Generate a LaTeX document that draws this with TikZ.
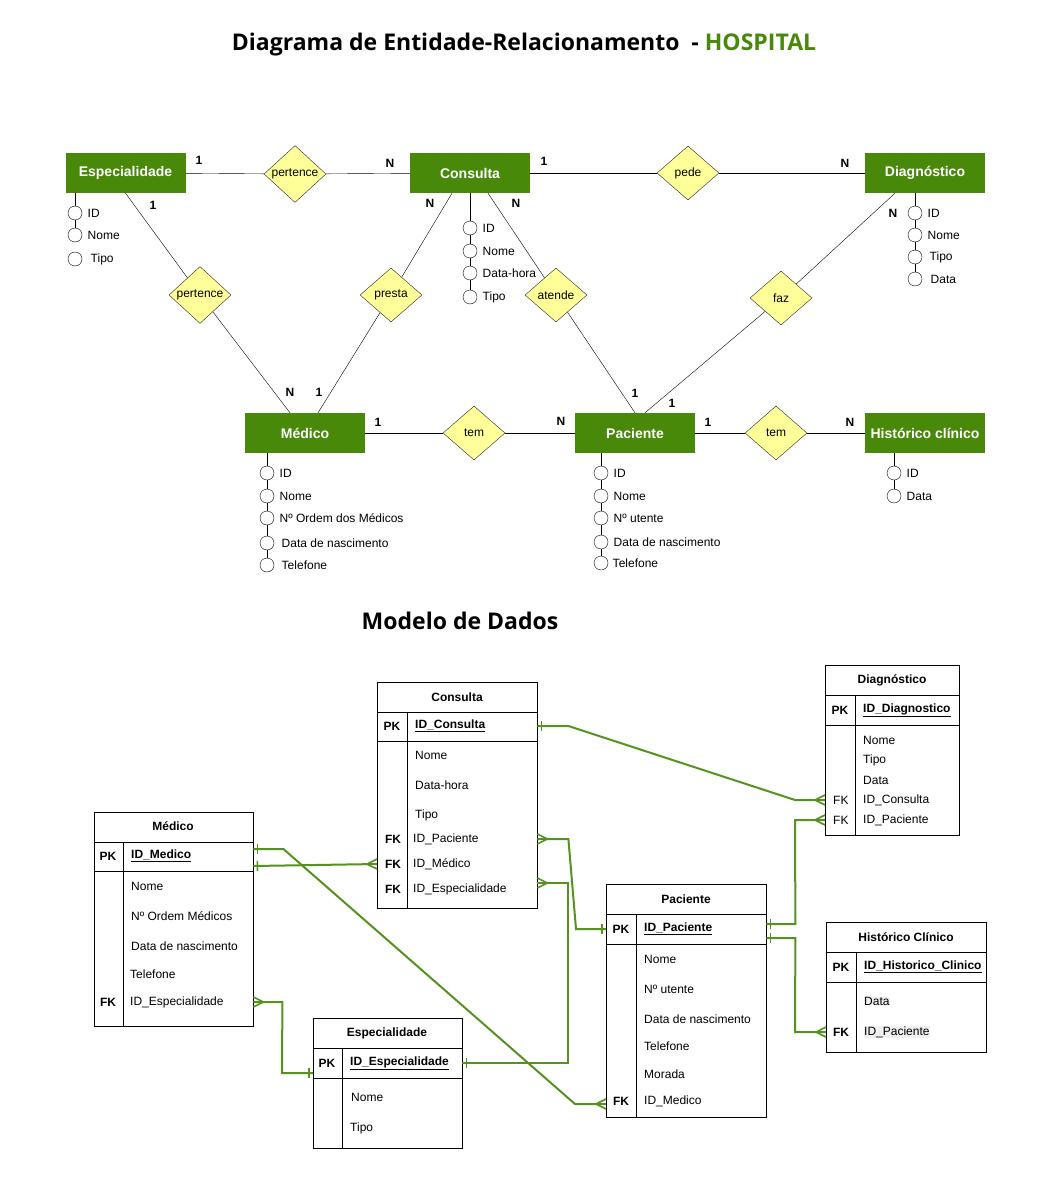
\documentclass[tikz,border=0pt]{standalone}
\usepackage{fontspec}
\setmainfont{Liberation Sans}
\newfontfamily\titlefont{Open Sans}
\usetikzlibrary{shapes.geometric}
\usetikzlibrary{decorations.markings}

\definecolor{ergreen}{RGB}{72,137,10}
\definecolor{fkgreen}{RGB}{86,146,32}
\definecolor{relyellow}{RGB}{255,255,153}

\tikzset{
  entity/.style={rectangle, fill=ergreen, text=white, minimum width=120pt, minimum height=40pt, inner sep=0pt, font=\bfseries\fontsize{14}{16}\selectfont},
  rel/.style={diamond, draw=black!85, fill=relyellow, minimum width=62pt, minimum height=54pt, inner sep=0pt, font=\fontsize{12}{14}\selectfont},
  attr/.style={circle, draw, fill=white, minimum size=14pt, inner sep=0pt},
  card/.style={inner sep=0pt, font=\bfseries\fontsize{12}{14}\selectfont},
  tbl/.style={draw, anchor=north west, inner sep=0pt},
  ttitle/.style={inner sep=0pt, font=\bfseries\fontsize{12}{14}\selectfont},
  tkey/.style={inner sep=0pt, font=\bfseries\fontsize{12}{14}\selectfont},
  trow/.style={anchor=west, inner sep=0pt, font=\fontsize{12}{14}\selectfont},
  tpk/.style={anchor=west, inner sep=0pt, font=\bfseries\fontsize{12}{14}\selectfont},
  fkline/.style={draw=fkgreen, line width=2pt},
  fktick/.style={fkgreen, line width=1.6pt},
  onestart/.style={postaction={decorate, decoration={markings, mark=at position 4pt with {\draw[fktick] (0,-5pt) -- (0,5pt);}}}},
  oneend/.style={postaction={decorate, decoration={markings, mark=at position -4pt with {\draw[fktick] (0,-5pt) -- (0,5pt);}}}},
  manystart/.style={postaction={decorate, decoration={markings, mark=at position 10pt with {\draw[fktick] (0,0) -- (-10pt,5pt) (0,0) -- (-10pt,-5pt);}}}},
  manyend/.style={postaction={decorate, decoration={markings, mark=at position -10pt with {\draw[fktick] (0,0) -- (10pt,5pt) (0,0) -- (10pt,-5pt);}}}},
}

\begin{document}
\begin{tikzpicture}[x=1pt, y=-1pt, label distance=2pt, every label/.style={font=\fontsize{12}{14}\selectfont}]
  \fill[white] (0,0) rectangle (1041,1198);
  \useasboundingbox (0,0) rectangle (1041,1198);

  \node[font=\titlefont\bfseries\fontsize{23}{27}\selectfont] (title) at (524,45)
    {Diagrama de Entidade-Relacionamento\ \ - \textcolor{ergreen}{HOSPITAL}};

  % Entities
  \node[entity] (esp)  at (125.5,173) {Especialidade};
  \node[entity] (cons) at (470,173)   {Consulta};
  \node[entity] (diag) at (925,173)   {Diagnóstico};
  \node[entity] (med)  at (305,433)   {Médico};
  \node[entity] (pac)  at (635,433)   {Paciente};
  \node[entity] (hist) at (925,433)   {Histórico clínico};

  % Relationships
  \node[rel] (pertA)  at (295,174) {pertence};
  \node[rel] (pede)   at (688,173) {pede};
  \node[rel] (pertB)  at (200,295) {pertence};
  \node[rel] (presta) at (391,295) {presta};
  \node[rel] (atende) at (556,295) {atende};
  \node[rel] (faz)    at (781,298) {faz};
  \node[rel] (temA)   at (474,433) {tem};
  \node[rel] (temB)   at (776,433) {tem};

  \draw (esp) -- (pertA) -- (cons);
  \draw (cons) -- (pede) -- (diag);
  \draw (esp.south) -- (pertB) -- ([xshift=-15pt]med.north);
  \draw ([xshift=-18pt]cons.south) -- (presta) -- ([xshift=13pt]med.north);
  \draw ([xshift=18pt]cons.south) -- (atende) -- (pac.north);
  \draw ([xshift=-30pt]diag.south) -- (faz) -- ([xshift=10pt]pac.north);
  \draw (med) -- (temA) -- (pac);
  \draw (pac) -- (temB) -- (hist);

  % Cardinalities
  \node[card] (k1)  at (199,160) {1};
  \node[card] (k2)  at (390,163) {N};
  \node[card] (k3)  at (544,161) {1};
  \node[card] (k4)  at (845,163) {N};
  \node[card] (k5)  at (153,205) {1};
  \node[card] (k6)  at (290,392) {N};
  \node[card] (k7)  at (319,392) {1};
  \node[card] (k8)  at (430,203) {N};
  \node[card] (k9)  at (516,203) {N};
  \node[card] (k10) at (635,393) {1};
  \node[card] (k11) at (893,213) {N};
  \node[card] (k12) at (672,403) {1};
  \node[card] (k13) at (378,422) {1};
  \node[card] (k14) at (561,421) {N};
  \node[card] (k15) at (708,422) {1};
  \node[card] (k16) at (850,422) {N};

  % Attributes
  \node[attr, label=right:ID]   (espid)   at (75,213) {};
  \node[attr, label=right:Nome] (espnome) at (75,235) {};
  \node[attr, label={[xshift=3pt]right:Tipo}] (esptipo) at (75,259) {};
  \draw (esp.south -| espid) -- (espid) -- (espnome);

  \node[attr, label=right:ID]        (consid)   at (470,228) {};
  \node[attr, label=right:Nome]      (consnome) at (470,251) {};
  \node[attr, label=right:Data-hora] (consdata) at (470,273) {};
  \node[attr, label=right:Tipo]      (constipo) at (470,297) {};
  \draw (cons.south -| consid) -- (consid) -- (consnome) -- (consdata) -- (constipo);

  \node[attr, label=right:ID]   (diagid)   at (915,213) {};
  \node[attr, label=right:Nome] (diagnome) at (915,235) {};
  \node[attr, label={[xshift=2pt]right:Tipo}] (diagtipo) at (915,257) {};
  \node[attr, label={[xshift=3pt]right:Data}] (diagdata) at (915,279) {};
  \draw (diag.south -| diagid) -- (diagid) -- (diagnome) -- (diagtipo) -- (diagdata);

  \node[attr, label=right:ID]   (medid)   at (267,473) {};
  \node[attr, label=right:Nome] (mednome) at (267,496) {};
  \node[attr, label=right:Nº Ordem dos Médicos] (medordem) at (267,518) {};
  \node[attr, label={[xshift=2pt]right:Data de nascimento}] (mednasc) at (267,543) {};
  \node[attr, label={[xshift=2pt]right:Telefone}] (medtel) at (267,565) {};
  \draw (med.south -| medid) -- (medid) -- (mednome) -- (medordem) -- (mednasc) -- (medtel);

  \node[attr, label=right:ID]   (pacid)   at (601,473) {};
  \node[attr, label=right:Nome] (pacnome) at (601,496) {};
  \node[attr, label=right:Nº utente] (pacutente) at (601,518) {};
  \node[attr, label=right:Data de nascimento] (pacnasc) at (601,542) {};
  \node[attr, label={[xshift=-1pt]right:Telefone}] (pactel) at (601,563) {};
  \draw (pac.south -| pacid) -- (pacid) -- (pacnome) -- (pacutente) -- (pacnasc) -- (pactel);

  \node[attr, label=right:ID]   (histid)   at (894,473) {};
  \node[attr, label=right:Data] (histdata) at (894,496) {};
  \draw (hist.south -| histid) -- (histid) -- (histdata);

  % Data model
  \node[font=\titlefont\bfseries\fontsize{23}{27}\selectfont] (subtitle) at (460,621) {Modelo de Dados};

  % Consulta
  \node[tbl, minimum width=160pt, minimum height=226pt] (tcons) at (377,682) {};
  \draw ([yshift=-30pt]tcons.north west) -- ([yshift=-30pt]tcons.north east)
        ([yshift=-59pt]tcons.north west) -- ([yshift=-59pt]tcons.north east)
        ([xshift=30pt,yshift=-30pt]tcons.north west) -- ([xshift=30pt]tcons.south west);
  \node[ttitle] (tconsT) at (457,697) {Consulta};
  \node[tkey] (cpkL) at (392,726) {PK};
  \node[tpk] (cpk) at (415,726) {\underline{ID\_Consulta}};
  \node[trow] (cnome) at (415,755) {Nome};
  \node[trow] (cdata) at (415,785) {Data-hora};
  \node[trow] (ctipo) at (415,815) {Tipo};
  \node[tkey] (cfpacL) at (393,839) {FK};
  \node[trow] (cfpac) at (413,839) {ID\_Paciente};
  \node[tkey] (cfmedL) at (393,864) {FK};
  \node[trow] (cfmed) at (413,864) {ID\_Médico};
  \node[tkey] (cfespL) at (393,889) {FK};
  \node[trow] (cfesp) at (413,889) {ID\_Especialidade};

  % Medico
  \node[tbl, minimum width=159pt, minimum height=214pt] (tmed) at (94,812) {};
  \draw ([yshift=-30pt]tmed.north west) -- ([yshift=-30pt]tmed.north east)
        ([yshift=-59pt]tmed.north west) -- ([yshift=-59pt]tmed.north east)
        ([xshift=29pt,yshift=-30pt]tmed.north west) -- ([xshift=29pt]tmed.south west);
  \node[ttitle] (tmedT) at (173,826) {Médico};
  \node[tkey] (mpkL) at (108,856) {PK};
  \node[tpk] (mpk) at (131,856) {\underline{ID\_Medico}};
  \node[trow] (mnome) at (131,886) {Nome};
  \node[trow] (mordem) at (131,916) {Nº Ordem Médicos};
  \node[trow] (mnasc) at (131,946) {Data de nascimento};
  \node[trow] (mtel) at (130,974) {Telefone};
  \node[tkey] (mfespL) at (108,1002) {FK};
  \node[trow] (mfesp) at (130,1002) {ID\_Especialidade};

  % Especialidade
  \node[tbl, minimum width=149pt, minimum height=130pt] (tesp) at (313,1018) {};
  \draw ([yshift=-30pt]tesp.north west) -- ([yshift=-30pt]tesp.north east)
        ([yshift=-60pt]tesp.north west) -- ([yshift=-60pt]tesp.north east)
        ([xshift=29pt,yshift=-30pt]tesp.north west) -- ([xshift=29pt]tesp.south west);
  \node[ttitle] (tespT) at (387,1033) {Especialidade};
  \node[tkey] (epkL) at (327,1063) {PK};
  \node[tpk] (epk) at (350,1063) {\underline{ID\_Especialidade}};
  \node[trow] (enome) at (351,1097) {Nome};
  \node[trow] (etipo) at (350,1128) {Tipo};

  % Paciente
  \node[tbl, minimum width=160pt, minimum height=233pt] (tpac) at (606,884) {};
  \draw ([yshift=-30pt]tpac.north west) -- ([yshift=-30pt]tpac.north east)
        ([yshift=-60pt]tpac.north west) -- ([yshift=-60pt]tpac.north east)
        ([xshift=30pt,yshift=-30pt]tpac.north west) -- ([xshift=30pt]tpac.south west);
  \node[ttitle] (tpacT) at (686,899) {Paciente};
  \node[tkey] (ppkL) at (621,929) {PK};
  \node[tpk] (ppk) at (644,929) {\underline{ID\_Paciente}};
  \node[trow] (pnome) at (644,959) {Nome};
  \node[trow] (putente) at (644,989) {Nº utente};
  \node[trow] (pnasc) at (644,1019) {Data de nascimento};
  \node[trow] (ptel) at (644,1046) {Telefone};
  \node[trow] (pmorada) at (644,1074) {Morada};
  \node[tkey] (pfmedL) at (621,1101) {FK};
  \node[trow] (pfmed) at (644,1101) {ID\_Medico};

  % Diagnostico
  \node[tbl, minimum width=134pt, minimum height=170pt] (tdiag) at (825,665) {};
  \draw ([yshift=-30pt]tdiag.north west) -- ([yshift=-30pt]tdiag.north east)
        ([yshift=-60pt]tdiag.north west) -- ([yshift=-60pt]tdiag.north east)
        ([xshift=30pt,yshift=-30pt]tdiag.north west) -- ([xshift=30pt]tdiag.south west);
  \node[ttitle] (tdiagT) at (892,680) {Diagnóstico};
  \node[tkey] (dpkL) at (840,710) {PK};
  \node[tpk] (dpk) at (863,710) {\underline{ID\_Diagnostico}};
  \node[trow] (dnome) at (863,740) {Nome};
  \node[trow] (dtipo) at (863,760) {Tipo};
  \node[trow] (ddata) at (863,780) {Data};
  \node[trow] (dconL) at (833,800) {FK};
  \node[trow] (dcon) at (863,800) {ID\_Consulta};
  \node[trow] (dpacL) at (833,820) {FK};
  \node[trow] (dpac) at (863,820) {ID\_Paciente};

  % Historico clinico
  \node[tbl, minimum width=160pt, minimum height=130pt] (thist) at (826,922) {};
  \draw ([yshift=-30pt]thist.north west) -- ([yshift=-30pt]thist.north east)
        ([yshift=-60pt]thist.north west) -- ([yshift=-60pt]thist.north east)
        ([xshift=30pt,yshift=-30pt]thist.north west) -- ([xshift=30pt]thist.south west);
  \node[ttitle] (thistT) at (906,937) {Histórico Clínico};
  \node[tkey] (hpkL) at (841,967) {PK};
  \node[tpk] (hpk) at (864,967) {\underline{ID\_Historico\_Clinico}};
  \node[trow, fill=black!6] (hdata) at (864,1001) {Data};
  \node[tkey] (hpacL) at (841,1032) {FK};
  \node[trow, fill=black!6] (hpac) at (864,1032) {ID\_Paciente};

  % Foreign keys
  \draw[fkline, onestart, manyend] (tcons.east |- cpk) -- ++(31,0)
    -- ([xshift=-30pt]tdiag.west |- dcon) -- (tdiag.west |- dcon);
  \draw[fkline, onestart, manyend] ([yshift=5pt]tpac.east |- ppk) -- ++(29,0)
    -- ([xshift=-30pt]tdiag.west |- dpac) -- (tdiag.west |- dpac);
  \draw[fkline, onestart, manyend] ([yshift=-9pt]tpac.east |- ppk) -- ++(29,0)
    -- ([xshift=-31pt]thist.west |- hpac) -- (thist.west |- hpac);
  \draw[fkline, manystart, oneend] (tcons.east |- cfpac) -- ++(31,0)
    -- ([xshift=-30pt]tpac.west |- ppk) -- (tpac.west |- ppk);
  \draw[fkline, manystart, oneend] ([yshift=6pt]tcons.east |- cfesp) -- ++(31,0)
    -- ([xshift=106pt]tesp.east |- epk) -- (tesp.east |- epk);
  \draw[fkline, onestart, manyend] ([yshift=-10pt]tmed.east |- mpk) -- (tcons.west |- cfmed);
  \draw[fkline, onestart, manyend] ([yshift=7pt]tmed.east |- mpk) -- ++(30,0)
    -- ([xshift=-31pt,yshift=-3pt]tpac.west |- pfmed) -- ([yshift=-3pt]tpac.west |- pfmed);
  \draw[fkline, manystart, oneend] (tmed.east |- mfesp) -- ++(29,0)
    -- ([xshift=-31pt,yshift=-10pt]tesp.west |- epk) -- ([yshift=-10pt]tesp.west |- epk);
\end{tikzpicture}
\end{document}
